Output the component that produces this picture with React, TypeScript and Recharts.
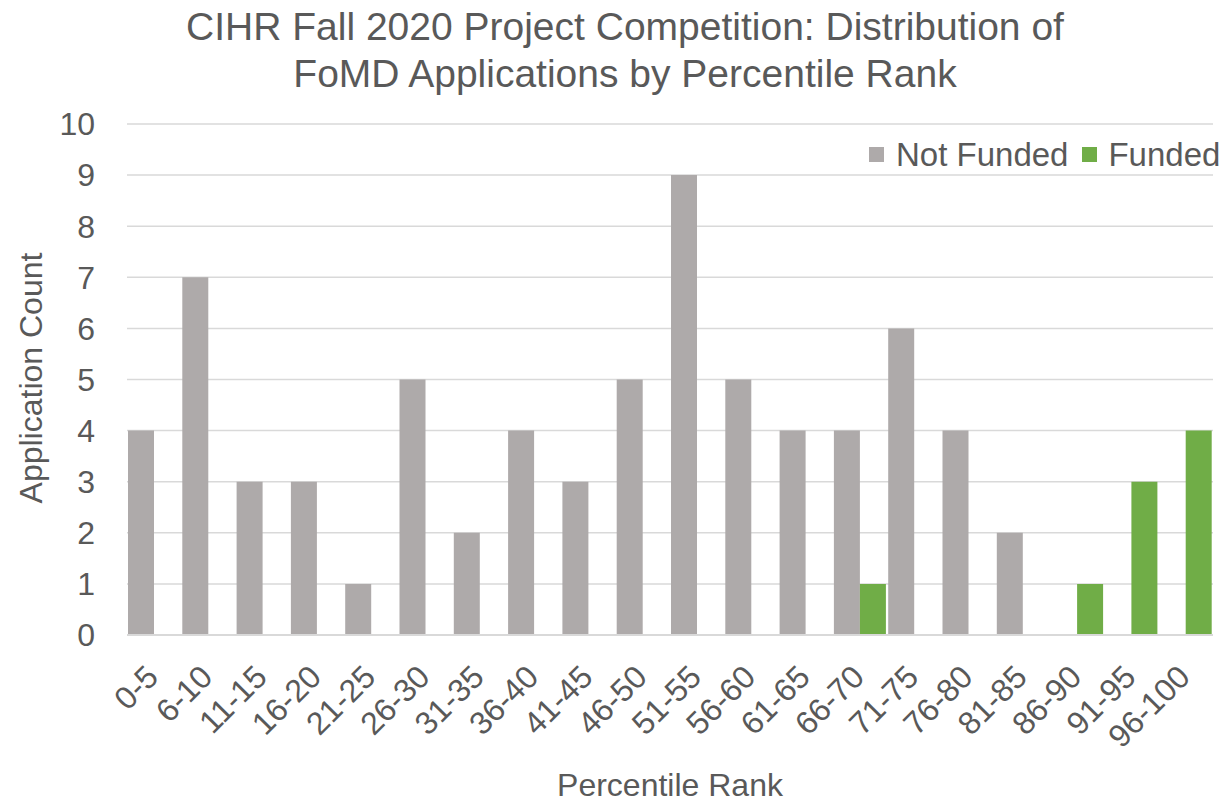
import React from "react";
import { BarChart, Bar, XAxis, YAxis, CartesianGrid } from "recharts";

const categories = ["0-5","6-10","11-15","16-20","21-25","26-30","31-35","36-40","41-45","46-50","51-55","56-60","61-65","66-70","71-75","76-80","81-85","86-90","91-95","96-100"];
const notFunded = [4,7,3,3,1,5,2,4,3,5,9,5,4,4,6,4,2,0,0,0];
const funded = [0,0,0,0,0,0,0,0,0,0,0,0,0,1,0,0,0,1,3,4];
const yTicks = [0,1,2,3,4,5,6,7,8,9,10];
const seriesNames = ["Not Funded", "Funded"];

const data = categories.map((c, i) => ({ cat: c, notFunded: notFunded[i], funded: funded[i] }));

const FONT = "'Liberation Sans', Arial, sans-serif";
const TEXT = "#595959";
const GREY = "#aeaaaa";
const GREEN = "#70ad47";

const XTick = (props: any) => {
  const { x, y, payload } = props;
  return (
    <g transform={`translate(${x + 6},${y + 44})`}>
      <text x={0} y={0} textAnchor="end" transform="rotate(-45)" fill={TEXT} fontSize={32} fontFamily={FONT}>
        {payload.value}
      </text>
    </g>
  );
};

export default function App() {
  return (
    <div style={{ position: "absolute", left: 0, top: 0, width: 1224, height: 801, background: "#fff", fontFamily: FONT }}>
      <div style={{ position: "absolute", left: 0, top: 3, width: 1250, textAlign: "center", fontSize: 39, lineHeight: "47px", color: TEXT }}>
        CIHR Fall 2020 Project Competition: Distribution of
        <br />
        FoMD Applications by Percentile Rank
      </div>
      <BarChart
        width={1224}
        height={801}
        data={data}
        margin={{ top: 124, right: 11, bottom: 0, left: 0 }}
        barCategoryGap={1}
        barGap={0}
      >
        <CartesianGrid vertical={false} stroke="#d9d9d9" strokeWidth={1.5} />
        <XAxis
          dataKey="cat"
          height={166}
          interval={0}
          tickLine={false}
          tickSize={0}
          tickMargin={0}
          axisLine={{ stroke: "#d9d9d9", strokeWidth: 2 }}
          tick={<XTick />}
        />
        <YAxis
          width={127}
          domain={[0, 10]}
          ticks={yTicks}
          interval={0}
          tickLine={false}
          axisLine={false}
          tickSize={0}
          tickMargin={32}
          tick={{ fill: TEXT, fontSize: 32, fontFamily: FONT }}
        />
        <Bar dataKey="notFunded" name={seriesNames[0]} fill={GREY} isAnimationActive={false} />
        <Bar dataKey="funded" name={seriesNames[1]} fill={GREEN} isAnimationActive={false} />
      </BarChart>
      <div style={{ position: "absolute", left: 869, top: 138, display: "flex", alignItems: "center", fontSize: 33, lineHeight: "33px", color: TEXT, whiteSpace: "nowrap", background: "#fff" }}>
        <span style={{ display: "inline-block", width: 15, height: 15, background: GREY, marginRight: 12 }} />
        <span>{seriesNames[0]}</span>
        <span style={{ display: "inline-block", width: 15, height: 15, background: GREEN, marginLeft: 14, marginRight: 11 }} />
        <span>{seriesNames[1]}</span>
      </div>
      <div style={{ position: "absolute", left: 470, top: 769, width: 400, textAlign: "center", fontSize: 32, lineHeight: "32px", color: TEXT }}>
        Percentile Rank
      </div>
      <div
        style={{
          position: "absolute",
          left: 31 - 200,
          top: 378 - 16,
          width: 400,
          textAlign: "center",
          fontSize: 32,
          lineHeight: "32px",
          color: TEXT,
          transform: "rotate(-90deg)",
          transformOrigin: "200px 16px",
        }}
      >
        Application Count
      </div>
    </div>
  );
}
